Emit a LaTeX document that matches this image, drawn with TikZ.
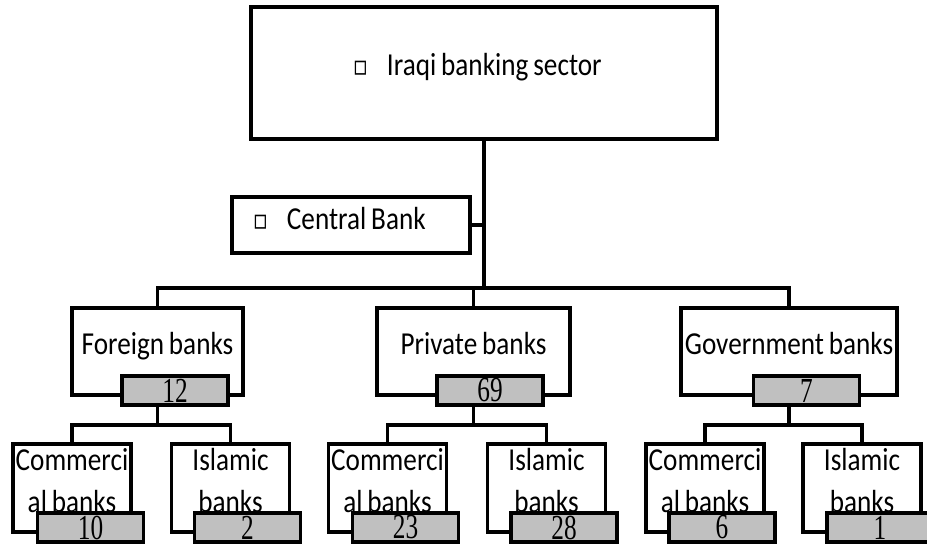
\documentclass[tikz,border=0pt]{standalone}
\usepackage{fontspec}
\setmainfont{Carlito}[FakeStretch=0.85, WordSpace=0.8]
\newfontfamily\numfont{Liberation Serif}[FakeStretch=0.72]
\newfontfamily\bulfont{DejaVu Sans Bold}[FakeStretch=0.8]
\usepackage{tikz}
\definecolor{numgrey}{RGB}{192,192,192}
\newcommand{\bul}{{\bulfont\fontsize{24}{24}\selectfont ▫}\hspace{16pt}}

\begin{document}
\begin{tikzpicture}[x=0.03cm, y=-0.03cm, line width=2.7pt,
  every node/.style={draw=black, rectangle, inner sep=0pt, fill=white, font=\fontsize{27.3}{35.8}\selectfont},
  bankbox/.style={minimum height=2.61cm, text height=0.69cm, text depth=0.48cm},
  subbox/.style={minimum width=3.54cm, minimum height=2.64cm, align=center, text height=1.98cm, text depth=0.54cm},
  numbox/.style={fill=numgrey, minimum width=3.18cm, minimum height=0.87cm, font=\numfont\fontsize{30}{30}\selectfont}]
\useasboundingbox (0,0) rectangle (927,545);

\node[minimum width=13.98cm, minimum height=3.96cm, text width=7.86cm, align=flush left, text height=0.69cm, text depth=0.51cm] (sector) at (484,73) {\bul Iraqi banking sector};
\node[minimum width=7.14cm, minimum height=1.68cm, text width=5.88cm, align=flush left, text height=0.69cm, text depth=0.39cm] (central) at (351,225) {\bul Central Bank};

\node[bankbox, minimum width=5.13cm] (foreign) at (157.5,351.5) {Foreign banks};
\node[bankbox, minimum width=5.79cm] (private) at (473.5,351.5) {Private banks};
\node[bankbox, minimum width=6.48cm] (gov) at (789,351.5) {Government banks};

\node[subbox] (fcom) at (72,488) {Commerci\\al banks};
\node[subbox] (fisl) at (230.5,488) {Islamic\\banks};
\node[subbox] (pcom) at (387.5,488) {Commerci\\al banks};
\node[subbox] (pisl) at (546.5,488) {Islamic\\banks};
\node[subbox] (gcom) at (705,488) {Commerci\\al banks};
\node[subbox] (gisl) at (862,488) {Islamic\\banks};

\coordinate (bus) at (484,288);
\coordinate (fbus) at (157.5,425);
\coordinate (pbus) at (473.5,425);
\coordinate (gbus) at (789,425);

\draw (sector.south) -- (bus);
\draw (central.east) -- (central.east -| sector.south);
\draw (bus) -| (foreign.north);
\draw (bus) -| (private.north);
\draw (bus) -| (gov.north);

\draw (foreign.south) -- (fbus);
\draw (fbus) -| (fcom.north);
\draw (fbus) -| (fisl.north);
\draw (private.south) -- (pbus);
\draw (pbus) -| (pcom.north);
\draw (pbus) -| (pisl.north);
\draw (gov.south) -- (gbus);
\draw (gbus) -| (gcom.north);
\draw (gbus) -| (gisl.north);

\node[numbox] (n12) at (175,390.5) {12};
\node[numbox] (n69) at (490,390.5) {69};
\node[numbox] (n7) at (806.5,390.5) {7};
\node[numbox] (n10) at (90.5,527.5) {10};
\node[numbox] (n2) at (247.5,527.5) {2};
\node[numbox] (n23) at (405.5,527.5) {23};
\node[numbox] (n28) at (564,527.5) {28};
\node[numbox] (n6) at (722,527.5) {6};
\node[numbox] (n1) at (880,527.5) {1};
\end{tikzpicture}
\end{document}
